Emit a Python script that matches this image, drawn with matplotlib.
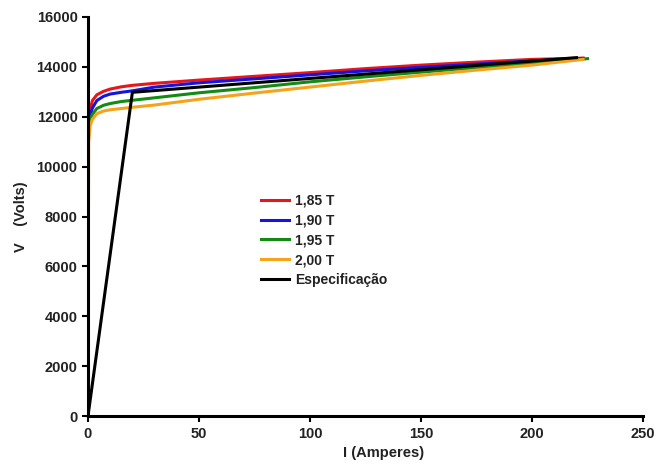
import matplotlib
matplotlib.use("Agg")
import matplotlib.pyplot as plt

plt.rcParams['font.family'] = ['Liberation Sans', 'DejaVu Sans']

# Data
i_red = [0, 0.3, 1, 2, 4, 7, 10, 15, 20, 30, 50, 75, 100, 125, 150, 175, 200, 223]
v_red = [8800, 11700, 12300, 12650, 12880, 13020, 13110, 13200, 13260, 13340, 13470, 13620, 13770, 13930, 14070, 14190, 14300, 14350]

i_blue = [0, 0.3, 1, 2, 4, 7, 10, 15, 20, 30, 50, 75, 100, 125, 150, 175, 200, 223]
v_blue = [11000, 11600, 12050, 12350, 12650, 12820, 12910, 12980, 13040, 13190, 13360, 13520, 13680, 13840, 13980, 14110, 14240, 14340]

i_green = [0, 0.3, 1, 2, 4, 7, 10, 15, 20, 30, 50, 75, 100, 125, 150, 175, 200, 225]
v_green = [10500, 11400, 11850, 12100, 12330, 12460, 12530, 12610, 12660, 12760, 12960, 13170, 13400, 13600, 13790, 13970, 14150, 14330]

i_orange = [0, 0.3, 1, 2, 4, 7, 10, 15, 20, 30, 50, 75, 100, 125, 150, 175, 200, 223]
v_orange = [0, 11000, 11650, 11900, 12120, 12230, 12280, 12330, 12380, 12470, 12700, 12950, 13190, 13430, 13660, 13870, 14070, 14300]

i_spec = [0, 20, 220]
v_spec = [0, 12980, 14370]

labels = ['1,85 T', '1,90 T', '1,95 T', '2,00 T', 'Especificação']
colors = ['#e8161b', '#1414e0', '#138a13', '#f7a21b', '#000000']

x_ticks = [0, 50, 100, 150, 200, 250]
y_ticks = [0, 2000, 4000, 6000, 8000, 10000, 12000, 14000, 16000]

fig = plt.figure(figsize=(6.65, 4.68), dpi=100)
ax = fig.add_axes([0.1323, 0.111, 0.8347, 0.8527])

series = [(i_red, v_red), (i_blue, v_blue), (i_green, v_green), (i_orange, v_orange), (i_spec, v_spec)]
for (xs, ys), lab, col in zip(series, labels, colors):
    ax.plot(xs, ys, color=col, lw=2.2, label=lab, solid_joinstyle='round')

ax.set_xlim(0, 250)
ax.set_ylim(0, 16000)
ax.set_xticks(x_ticks)
ax.set_yticks(y_ticks)

for s in ['top', 'right']:
    ax.spines[s].set_visible(False)
for s in ['left', 'bottom']:
    ax.spines[s].set_linewidth(2.2)
    ax.spines[s].set_color('black')

ax.tick_params(direction='out', length=4, width=1.5, colors='black',
               labelcolor='#222222', labelsize=10.5)
ax.tick_params(axis='x', pad=4)
for t in ax.get_xticklabels() + ax.get_yticklabels():
    t.set_fontweight('bold')

ax.set_xlabel('I (Amperes)', fontsize=10.5, fontweight='bold', color='#222222')
ax.xaxis.set_label_coords(0.533, -0.075)
ax.set_ylabel('V    (Volts)', fontsize=10.5, fontweight='bold', color='#222222')
ax.yaxis.set_label_coords(-0.108, 0.5)

leg = ax.legend(loc='upper left', bbox_to_anchor=(0.3, 0.575), frameon=False,
                handlelength=2.0, handletextpad=0.4, labelspacing=0.42,
                borderpad=0, prop={'weight': 'bold', 'size': 10})
for t in leg.get_texts():
    t.set_color('#222222')

fig.savefig('out.png', dpi=100)
